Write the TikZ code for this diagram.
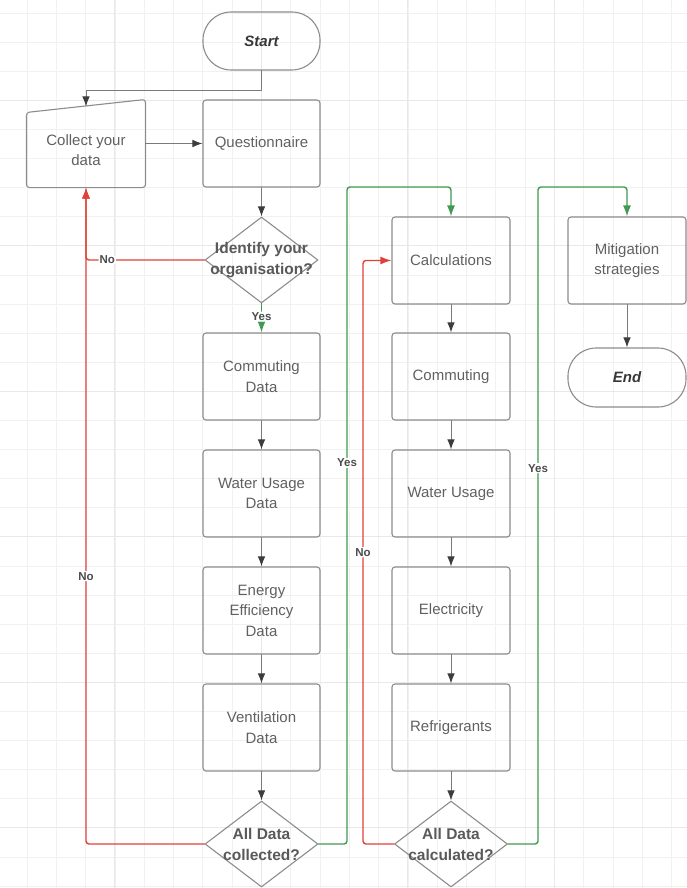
\documentclass[tikz,border=0pt]{standalone}
\usepackage{fontspec}
\setmainfont{Liberation Sans}
\usetikzlibrary{arrows.meta,shapes.geometric}
\definecolor{boxline}{HTML}{8C8C8C}
\definecolor{boxtext}{HTML}{606060}
\definecolor{linegray}{HTML}{7A7A7A}
\definecolor{tipgray}{HTML}{3C3C3C}
\definecolor{nored}{HTML}{E0403A}
\definecolor{yesgreen}{HTML}{3F9B4F}
\definecolor{gridminor}{HTML}{F1F1F1}
\definecolor{gridmajor}{HTML}{E8E8E8}
\tikzset{
  every picture/.style={line join=round, line cap=round},
  box/.style={draw=boxline, line width=1.1pt, rounded corners=3pt,
    minimum width=117pt, minimum height=87pt, align=center,
    text=boxtext, font=\fontsize{15}{20.5}\selectfont},
  term/.style={box, rounded corners=28pt, minimum height=58pt,
    text=black!78, font=\fontsize{15}{20}\selectfont\bfseries\itshape},
  decision/.style={diamond, draw=boxline, line width=1.1pt,
    minimum width=113pt, minimum height=86pt, inner sep=0pt},
  dtext/.style={align=center, text=black!65, font=\fontsize{15.5}{21}\selectfont\bfseries},
  flow/.style={draw=linegray, line width=1pt, -{Latex[length=10pt,width=7.5pt,color=tipgray]}},
  noflow/.style={draw=nored, line width=1.4pt, rounded corners=3pt, -{Latex[length=11pt,width=8pt]}},
  yesflow/.style={draw=yesgreen, line width=1.4pt, rounded corners=3pt, -{Latex[length=11pt,width=8pt]}},
  lbl/.style={fill=white, inner sep=1pt, text=black!70, font=\fontsize{11.5}{13}\selectfont\bfseries},
}
\begin{document}
\begin{tikzpicture}[x=1pt, y=-1pt]
    \useasboundingbox (0,0) rectangle (687,888);
    % Background grid
    \foreach \k in {-1,...,22}
        \draw[gridminor, line width=0.8pt] ({27+29.3*\k},0) -- ({27+29.3*\k},888);
    \foreach \k in {0,...,30}
        \draw[gridminor, line width=0.8pt] (0,{13+29.1*\k}) -- (687,{13+29.1*\k});
    \foreach \k in {3,8,13,18}
        \draw[gridmajor, line width=1pt] ({27+29.3*\k},0) -- ({27+29.3*\k},888);
    \foreach \k in {3,8,13,18,23,28}
        \draw[gridmajor, line width=1pt] (0,{13+29.1*\k}) -- (687,{13+29.1*\k});

    % Data collection column
    \node[term] (start) at (261.5,41) {Start};
    \node[box, draw=none] (col) at (86,150) [minimum height=74pt, minimum width=118pt] {Collect your\\data};
    \draw[boxline, line width=1.1pt, rounded corners=3pt]
        (col.south west) -- (col.north west) -- ([yshift=13pt]col.north east)
        -- (col.south east) -- cycle;
    \coordinate (colin) at (86,106.5);
    \node[box] (q) at (261.5,143.5) {Questionnaire};
    \node[decision] (idn) at (261.5,260) {};
    \node[dtext] (idnt) at (idn) {Identify your\\organisation?};
    \node[box] (cd) at (261.5,376.5) {Commuting\\Data};
    \node[box] (wd) at (261.5,493.5) {Water Usage\\Data};
    \node[box] (ed) at (261.5,610.5) {Energy\\Efficiency\\Data};
    \node[box] (vd) at (261.5,727.5) {Ventilation\\Data};
    \node[decision] (coll) at (261.5,844) {};
    \node[dtext] (collt) at (coll) {All Data\\collected?};

    % Calculation column
    \node[box, minimum width=118pt] (calc) at (451,260.5) {Calculations};
    \node[box, minimum width=118pt] (cm) at (451,376.5) {Commuting};
    \node[box, minimum width=118pt] (wu) at (451,493.5) {Water Usage};
    \node[box, minimum width=118pt] (el) at (451,610.5) {Electricity};
    \node[box, minimum width=118pt] (rf) at (451,727.5) {Refrigerants};
    \node[decision] (calcd) at (451,844) {};
    \node[dtext] (calcdt) at (calcd) {All Data\\calculated?};

    % Outcome column
    \node[box, minimum width=118pt] (mit) at (627,260.5) {Mitigation\\strategies};
    \node[term, minimum width=118pt, minimum height=59pt] (end) at (627,377.5) {End};

    % Plain flow
    \draw[flow] (start.south) -- ++(0,20) -| (colin);
    \draw[flow] (col.east |- q.west) -- (q.west);
    \draw[flow] (q.south) -- (idn.north);
    \draw[flow] (cd) -- (wd);
    \draw[flow] (wd) -- (ed);
    \draw[flow] (ed) -- (vd);
    \draw[flow] (vd.south) -- (coll.north);
    \draw[flow] (calc) -- (cm);
    \draw[flow] (cm) -- (wu);
    \draw[flow] (wu) -- (el);
    \draw[flow] (el) -- (rf);
    \draw[flow] (rf.south) -- (calcd.north);
    \draw[flow] (mit) -- (end);

    % Decisions
    \coordinate (ya) at (347,187);
    \coordinate (yb) at (538,187);
    \coordinate (na) at (363,260.5);
    \draw[noflow] (idn.west) -| node[lbl, pos=0.41] {No} (col.south);
    \draw[yesflow] (idn.south) -- node[lbl, pos=0.45] {Yes} (cd.north);
    \draw[noflow] (coll.west) -| node[lbl, pos=0.704] {No} (col.south);
    \draw[yesflow] (coll.east) -| node[lbl, pos=0.79] {Yes} (ya) -| (calc.north);
    \draw[noflow] (calcd.west) -| node[lbl, pos=0.75] {No} (na) -- (calc.west);
    \draw[yesflow] (calcd.east) -| node[lbl, pos=0.786] {Yes} (yb) -| (mit.north);
\end{tikzpicture}
\end{document}
